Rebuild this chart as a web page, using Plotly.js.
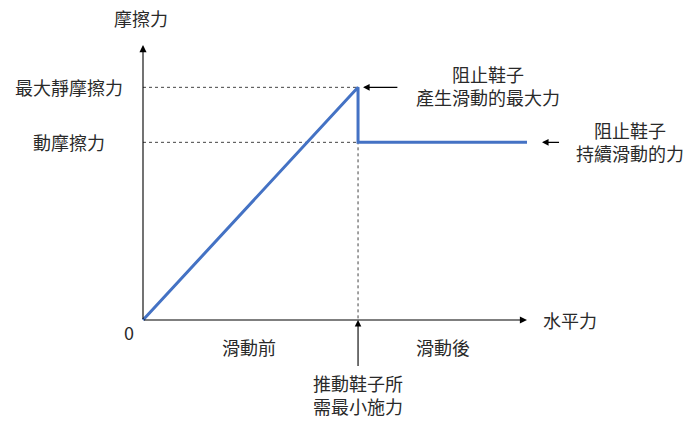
<!DOCTYPE html>
<html>
<head>
<meta charset="utf-8">
<script src="https://cdn.plot.ly/plotly-3.0.1.min.js"></script>
<style>
  html, body { margin: 0; padding: 0; background: #fff; }
  #chart { width: 700px; height: 429px; }
</style>
</head>
<body>
<div id="chart"></div>
<script>
// friction force vs applied horizontal force
var pushForce = [0, 5.6, 5.6, 10];
var frictionForce = [0, 8.46, 6.46, 6.46];

var staticMax = 8.46;
var kinetic = 6.46;
var slipPoint = 5.6;
var axisEnd = 10;

var yTickLabels = ["最大靜摩擦力", "動摩擦力"];
var yTickValues = [staticMax, kinetic];

var FONT = "'Noto Sans CJK TC', 'Noto Sans CJK SC', sans-serif";
var INK = "#2a2a2a";
var BLUE = "#4472C4";

var trace = {
    x: pushForce,
    y: frictionForce,
    mode: "lines",
    type: "scatter",
    line: { color: BLUE, width: 3 },
    hoverinfo: "skip"
};

var annotations = [];

// arrow with no text, drawn in data units
function arrow(x, y, ax, ay, size) {
    return { x: x, y: y, ax: ax, ay: ay, axref: "x", ayref: "y", text: "",
        width: 1, height: 1, borderpad: 0, showarrow: true, arrowhead: 2, arrowsize: size,
        arrowwidth: 1.1, arrowcolor: "#000" };
}

// axes drawn as arrows
annotations.push(arrow(0, axisEnd, 0, 0, 1.3));
annotations.push(arrow(axisEnd, 0, 0, 0, 1.3));

// y labels (centered in a column left of the axis)
yTickLabels.forEach(function (t, i) {
    annotations.push({ x: -1.93, y: yTickValues[i], text: t, showarrow: false,
        xanchor: "center", yanchor: "middle" });
});

annotations.push({ x: -0.05, y: 10.98, text: "摩擦力", showarrow: false });
annotations.push({ x: 11.12, y: 0, text: "水平力", showarrow: false });
annotations.push({ x: -0.36, y: -0.44, text: "0", showarrow: false });
annotations.push({ x: 2.76, y: -0.98, text: "滑動前", showarrow: false });
annotations.push({ x: 7.81, y: -0.98, text: "滑動後", showarrow: false });

// minimum push force: label carries its own arrow up to the slip point
annotations.push({ x: slipPoint, y: 0, ax: 0, ay: 75, text: "推動鞋子所<br>需最小施力",
    showarrow: true, arrowhead: 2, arrowsize: 1.2, arrowwidth: 1.1, arrowcolor: "#000",
    borderpad: 4 });

// max static friction
annotations.push(arrow(5.73, staticMax, 6.65, staticMax, 1.2));
annotations.push({ x: 8.98, y: 8.53, text: "阻止鞋子<br>產生滑動的最大力", showarrow: false });

// kinetic friction
annotations.push(arrow(10.39, kinetic, 10.86, kinetic, 1.2));
annotations.push({ x: 12.68, y: 6.49, text: "阻止鞋子<br>持續滑動的力", showarrow: false });

var dash = { color: "#444", width: 1, dash: "dot" };
var shapes = [
    { type: "line", x0: 0, x1: slipPoint, y0: staticMax, y1: staticMax, line: dash, layer: "below" },
    { type: "line", x0: 0, x1: slipPoint, y0: kinetic, y1: kinetic, line: dash, layer: "below" },
    { type: "line", x0: slipPoint, x1: slipPoint, y0: staticMax, y1: 0, line: dash, layer: "below" }
];

var layout = {
    width: 700,
    height: 429,
    margin: { l: 0, r: 0, t: 0, b: 0 },
    paper_bgcolor: "#fff",
    plot_bgcolor: "#fff",
    showlegend: false,
    font: { family: FONT, size: 18, color: INK },
    xaxis: { range: [-3.724, 14.505], visible: false, fixedrange: true },
    yaxis: { range: [-3.964, 11.636], visible: false, fixedrange: true },
    annotations: annotations,
    shapes: shapes
};

Plotly.newPlot("chart", [trace], layout, { displayModeBar: false, staticPlot: true });
</script>
</body>
</html>
